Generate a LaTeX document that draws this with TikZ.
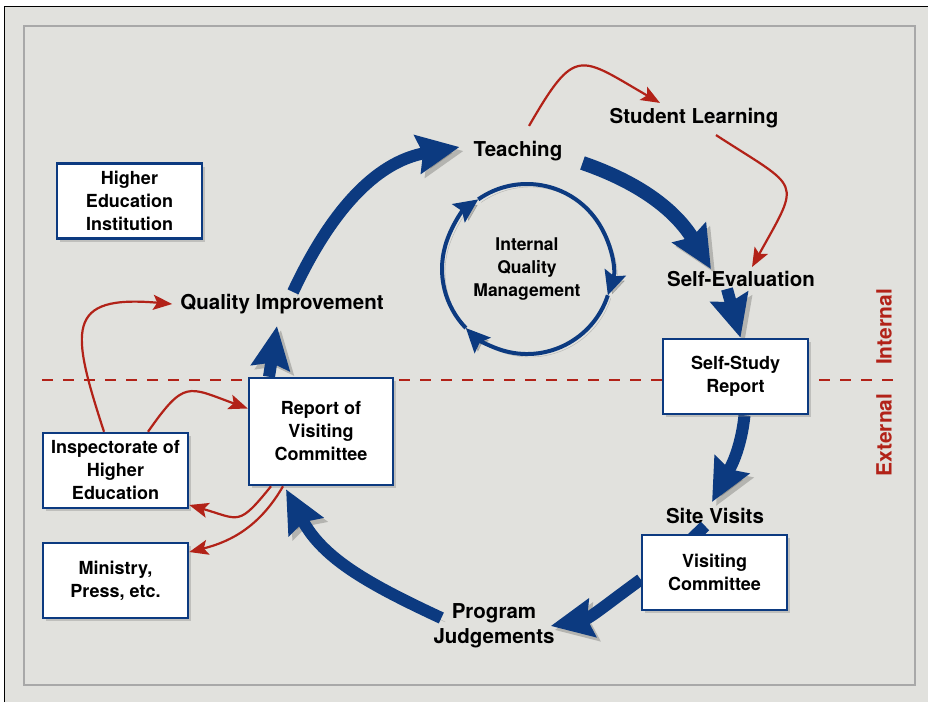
\documentclass[tikz,border=0pt]{standalone}
\usepackage{fontspec}
\setmainfont{TeX Gyre Heros}
\usetikzlibrary{arrows.meta,shadows}

\definecolor{qblue}{RGB}{12,58,128}
\definecolor{qred}{RGB}{178,34,24}
\definecolor{paperbg}{RGB}{225,225,221}
\definecolor{framegray}{RGB}{168,168,168}

\pgfdeclarelayer{bglayer}
\pgfdeclarelayer{arrowlayer}
\pgfsetlayers{bglayer,arrowlayer,main}

\tikzset{
    lbl/.style={font=\fontsize{20.5}{25}\selectfont\bfseries, align=center, inner sep=2pt},
    side/.style={font=\fontsize{21}{25}\selectfont\bfseries, text=qred, inner sep=2pt},
    unitbox/.style={draw=qblue, line width=2.5pt, fill=white, align=center, inner sep=2pt,
        minimum width=145pt, minimum height=75pt, font=\fontsize{18}{23}\selectfont\bfseries,
        drop shadow={shadow xshift=3pt, shadow yshift=-3pt, opacity=0.35}},
    cycleflow/.style={draw=qblue, line width=12pt, -{Stealth[length=42pt, width=38pt, inset=5pt]},
        preaction={draw=black, opacity=0.2, transform canvas={shift={(4pt,-4pt)}}}},
    iqmring/.style={draw=qblue, line width=4pt, -{Stealth[length=24pt, width=22pt, inset=4pt]},
        preaction={draw=black, opacity=0.2, transform canvas={shift={(3pt,-3pt)}}}},
    redlink/.style={draw=qred, line width=2.2pt, -{Stealth[length=19pt, width=15pt, inset=4pt]}},
}

\begin{document}
\begin{tikzpicture}[x=1pt, y=1pt]
        \useasboundingbox (0,0) rectangle (928,-702);
        \node[lbl] (teach) at (518,-151) {Teaching};
        \node[lbl] (stud) at (694,-118) {Student Learning};
        \node[lbl] (selfev) at (741,-279) {Self-Evaluation};
        \node[lbl] (qi) at (282,-304) {Quality Improvement};
        \node[lbl] (site) at (715,-516) {Site Visits};
        \node[lbl] (prog) at (494,-626) {Program\\Judgements};
        \node[lbl, font=\fontsize{17.5}{23}\selectfont\bfseries] (iqm) at (527,-269) {Internal\\Quality\\Management};
        \node[unitbox] (hei) at (129.5,-201) {Higher\\Education\\Institution};
        \node[unitbox] (ins) at (115.5,-470.5) {Inspectorate of\\Higher\\Education};
        \node[unitbox] (mini) at (115.5,-580.5) {Ministry,\\Press, etc.};
        \node[unitbox, minimum width=144pt, minimum height=107pt] (rep) at (321,-431.5) {Report of\\Visiting\\Committee};
        \node[unitbox] (ssr) at (735.5,-376.5) {Self-Study\\Report};
        \node[unitbox] (vc) at (714.5,-572.5) {Visiting\\Committee};
        \node[side, rotate=90] (intl) at (884,-327) {Internal};
        \node[side, rotate=90] (extl) at (884,-435) {External};

        \begin{pgfonlayer}{bglayer}
        \fill[white] (0,0) rectangle (928,-702);
        \fill[paperbg] (5,-7) rectangle (928,-702);
        \draw[black, line width=1.5pt] (4.5,-702) -- (4.5,-6.5) -- (928,-6.5);
        \draw[framegray, line width=1.5pt] (24,-26) rectangle (915,-685);
        \draw[qred, line width=2pt, dash pattern=on 11pt off 10pt] (42,-380) -- (893,-380);
        \end{pgfonlayer}

        \begin{pgfonlayer}{arrowlayer}
        \draw[cycleflow] ([xshift=11pt]qi.north) to[out=65, in=190] ([xshift=-12pt, yshift=4pt]teach.west);
        \draw[cycleflow, line width=14pt] ([xshift=18pt, yshift=-12pt]teach.east) to[out=-19, in=121] ([xshift=-30pt]selfev.north);
        \draw[cycleflow] ([xshift=-14pt]selfev.south) -- ([xshift=5pt]ssr.north);
        \draw[cycleflow] ([xshift=9pt]ssr.south) to[out=-96, in=62] ([xshift=-3pt, yshift=4pt]site.north);
        \draw[cycleflow, -] ([xshift=-10pt]site.south) -- ([xshift=-30pt, yshift=-12pt]vc.north);
        \draw[cycleflow] ([yshift=-7pt]vc.west) to[out=-144, in=11] ([xshift=-6pt]prog.east);
        \draw[cycleflow] ([xshift=10pt, yshift=8pt]prog.west) to[out=155, in=-62] ([xshift=-35pt, yshift=-3pt]rep.south);
        \draw[cycleflow] ([xshift=-52pt]rep.north) -- ([xshift=-5pt, yshift=-10pt]qi.south);
        \end{pgfonlayer}

        \draw[iqmring] ([shift={(125:85pt)}]iqm.center) arc[start angle=125, end angle=-18, radius=85pt];
        \draw[iqmring] ([shift={(-18:85pt)}]iqm.center) arc[start angle=-18, end angle=-136, radius=85pt];
        \draw[iqmring] ([shift={(-136:85pt)}]iqm.center) arc[start angle=-136, end angle=-235, radius=85pt];

        \draw[redlink] ([xshift=11pt, yshift=13pt]teach.north) to[out=60, in=150, looseness=1.8] ([xshift=-34pt, yshift=3pt]stud.north);
        \draw[redlink] ([xshift=22pt, yshift=-5pt]stud.south) to[out=-33, in=61, looseness=1.9] ([xshift=11pt, yshift=2pt]selfev.north);
        \draw[redlink] ([xshift=-11.5pt]ins.north) to[out=108, in=175, looseness=1.9] ([xshift=-6pt]qi.west);
        \draw[redlink] ([xshift=32.5pt]ins.north) to[out=55, in=160, looseness=1.6] ([yshift=23pt]rep.west);
        \draw[redlink] ([xshift=-50pt]rep.south) to[out=-129, in=-16, looseness=1.6] ([yshift=-34.5pt]ins.east);
        \draw[redlink] ([xshift=-38pt]rep.south) to[out=-120, in=14] ([yshift=28.5pt]mini.east);
\end{tikzpicture}
\end{document}
